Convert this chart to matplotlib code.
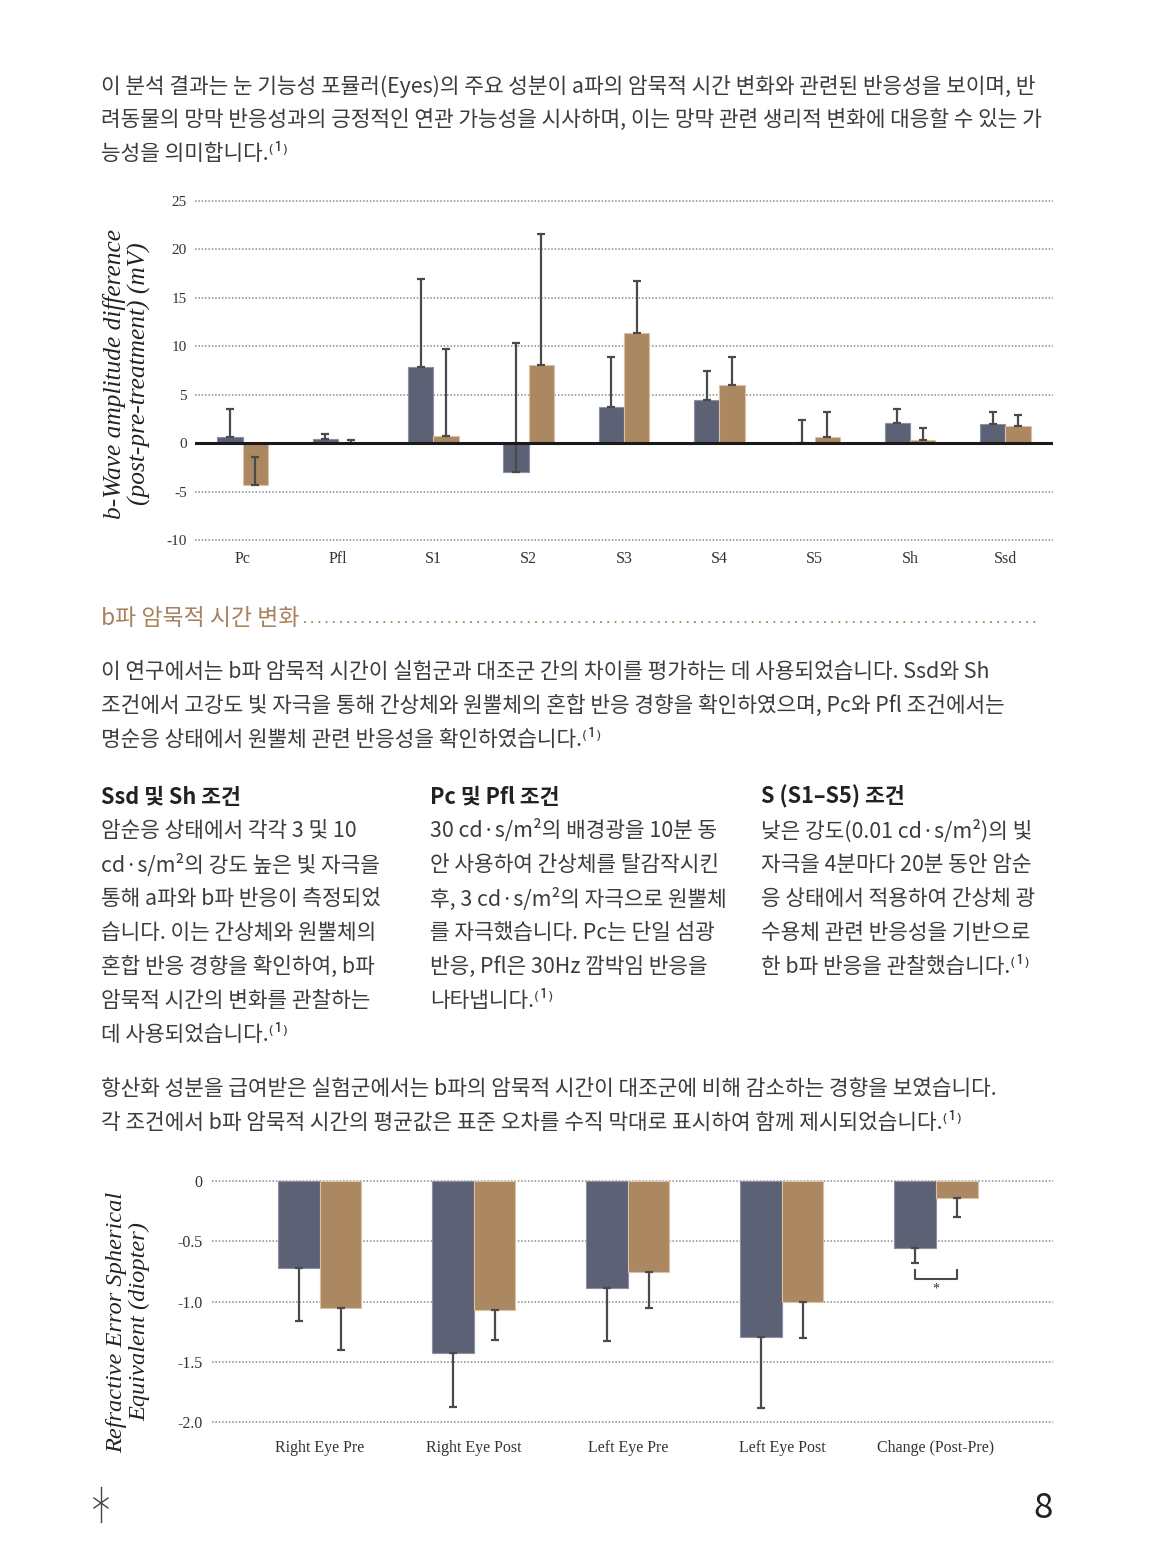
import numpy as np
import matplotlib
matplotlib.use("Agg")
import matplotlib.pyplot as plt
from matplotlib.lines import Line2D

# ---- data: 상단 차트 (b-wave amplitude difference)
top_cats = ["Pc", "Pfl", "S1", "S2", "S3", "S4", "S5", "Sh", "Ssd"]
top_ctrl = [0.65, 0.38, 7.9, -3.0, 3.75, 4.45, 0.0, 2.1, 1.95]
top_ctrl_err = [2.85, 0.52, 9.0, 13.3, 5.15, 2.95, 2.4, 1.4, 1.25]
top_trt = [-4.3, 0.0, 0.75, 8.1, 11.4, 6.0, 0.65, 0.3, 1.8]
top_trt_err = [2.9, 0.35, 8.95, 13.5, 5.3, 2.9, 2.55, 1.25, 1.1]
top_yticks = [-10, -5, 0, 5, 10, 15, 20, 25]
top_ylabels = ["-10", "-5", "0", "5", "10", "15", "20", "25"]

# ---- data: 하단 차트 (refractive error)
bot_cats = ["Right Eye Pre", "Right Eye Post", "Left Eye Pre", "Left Eye Post", "Change (Post-Pre)"]
bot_ctrl = [-0.72, -1.425, -0.888, -1.292, -0.553]
bot_ctrl_err = [0.445, 0.448, 0.437, 0.589, 0.13]
bot_trt = [-1.054, -1.07, -0.758, -1.0, -0.138]
bot_trt_err = [0.351, 0.25, 0.298, 0.305, 0.162]
bot_yticks = [-2.0, -1.5, -1.0, -0.5, 0]
bot_ylabels = ["-2.0", "-1.5", "-1.0", "-0.5", "0"]

NAVY = "#5d6176"
TAN = "#ab8762"
TXT = "#3c3c3c"
KR = ["Noto Sans CJK KR", "DejaVu Sans"]
SERIF = "Liberation Serif"

W, H = 1157, 1564
fig = plt.figure(figsize=(W / 100, H / 100), dpi=100)


def fx(px):
    return px / W


def fy(py):
    return 1 - py / H


def body(x, y, s, **kw):
    opts = dict(family=KR, fontsize=15.4, color=TXT, va="center", ha="left")
    opts.update(kw)
    fig.text(fx(x), fy(y), s, **opts)


# ---- 본문 텍스트
para1 = ["이 분석 결과는 눈 기능성 포뮬러(Eyes)의 주요 성분이 a파의 암묵적 시간 변화와 관련된 반응성을 보이며, 반",
         "려동물의 망막 반응성과의 긍정적인 연관 가능성을 시사하며, 이는 망막 관련 생리적 변화에 대응할 수 있는 가",
         "능성을 의미합니다.⁽¹⁾"]
for i, line in enumerate(para1):
    body(101, 86 + 34 * i, line)

fig.text(fx(101), fy(618), "b파 암묵적 시간 변화", family=KR, fontsize=16.5, color="#a8825c",
         weight="medium", va="center", ha="left")
fig.add_artist(Line2D([fx(304), fx(1040)], [fy(622), fy(622)], color="#a8825c",
                      lw=1.3, ls=(0, (1, 3))))

para2 = ["이 연구에서는 b파 암묵적 시간이 실험군과 대조군 간의 차이를 평가하는 데 사용되었습니다. Ssd와 Sh",
         "조건에서 고강도 빛 자극을 통해 간상체와 원뿔체의 혼합 반응 경향을 확인하였으며, Pc와 Pfl 조건에서는",
         "명순응 상태에서 원뿔체 관련 반응성을 확인하였습니다.⁽¹⁾"]
for i, line in enumerate(para2):
    body(101, 672 + 34 * i, line)

col_heads = ["Ssd 및 Sh 조건", "Pc 및 Pfl 조건", "S (S1–S5) 조건"]
col_x = [101, 430, 761]
col_lines = [
    ["암순응 상태에서 각각 3 및 10", "cd·s/m²의 강도 높은 빛 자극을", "통해 a파와 b파 반응이 측정되었",
     "습니다. 이는 간상체와 원뿔체의", "혼합 반응 경향을 확인하여, b파", "암묵적 시간의 변화를 관찰하는",
     "데 사용되었습니다.⁽¹⁾"],
    ["30 cd·s/m²의 배경광을 10분 동", "안 사용하여 간상체를 탈감작시킨", "후, 3 cd·s/m²의 자극으로 원뿔체",
     "를 자극했습니다. Pc는 단일 섬광", "반응, Pfl은 30Hz 깜박임 반응을", "나타냅니다.⁽¹⁾"],
    ["낮은 강도(0.01 cd·s/m²)의 빛", "자극을 4분마다 20분 동안 암순", "응 상태에서 적용하여 간상체 광",
     "수용체 관련 반응성을 기반으로", "한 b파 반응을 관찰했습니다.⁽¹⁾"],
]
for x, head, lines in zip(col_x, col_heads, col_lines):
    body(x, 797, head, weight="bold", color="#222222", fontsize=15.6)
    for i, line in enumerate(lines):
        body(x, 831 + 34 * i, line)

para3 = ["항산화 성분을 급여받은 실험군에서는 b파의 암묵적 시간이 대조군에 비해 감소하는 경향을 보였습니다.",
         "각 조건에서 b파 암묵적 시간의 평균값은 표준 오차를 수직 막대로 표시하여 함께 제시되었습니다.⁽¹⁾"]
for i, line in enumerate(para3):
    body(101, 1089 + 34 * i, line)

# ---- 공통 스타일
def style_axes(ax):
    for s in ax.spines.values():
        s.set_visible(False)
    ax.tick_params(length=0)
    ax.grid(axis="y", ls=(0, (1, 1.2)), color="#8a8a8a", lw=1.1)
    for gl in ax.get_ygridlines():
        gl.set_clip_on(False)
    ax.set_axisbelow(True)
    for lab in ax.get_xticklabels() + ax.get_yticklabels():
        lab.set_family(SERIF)
        lab.set_color("#333333")


bw = 0.265
ekw = dict(ecolor="#4a4a4a", elinewidth=1.6, capsize=2.6, capthick=1.6, fmt="none")

# ---- 상단 차트
ax1 = fig.add_axes([fx(195), fy(540), fx(1053) - fx(195), fy(201) - fy(540)])
x = np.arange(len(top_cats))
ax1.bar(x - bw / 2, top_ctrl, bw, color=NAVY, edgecolor="#8b8fa3", lw=0.8)
ax1.bar(x + bw / 2, top_trt, bw, color=TAN, edgecolor="#d9c2a6", lw=0.8)
z = np.zeros(len(x))
ax1.errorbar(x - bw / 2, top_ctrl, yerr=[z, top_ctrl_err], **ekw)
ax1.errorbar(x + bw / 2, top_trt, yerr=[z, top_trt_err], **ekw)
ax1.axhline(0, color="#1a1a1a", lw=2.2, zorder=5)
ax1.set_xlim(-0.5, len(x) - 0.5)
ax1.set_ylim(-10, 25)
ax1.set_yticks(top_yticks)
ax1.set_yticklabels(top_ylabels, fontsize=11)
ax1.set_xticks(x)
ax1.set_xticklabels(top_cats, fontsize=11.5)
ax1.tick_params(axis="y", pad=6)
ax1.tick_params(axis="x", pad=8)
style_axes(ax1)
fig.text(fx(127), fy(374), "b-Wave amplitude difference\n(post-pre-treatment) (mV)", family=SERIF,
         style="italic", fontsize=18.3, rotation=90, ha="center", va="center", color="#222222",
         multialignment="center", linespacing=1.08)

# ---- 하단 차트
ax2 = fig.add_axes([fx(212), fy(1422), fx(1053) - fx(212), fy(1181) - fy(1422)])
x2 = np.arange(len(bot_cats))
bw2 = 0.27
ax2.bar(x2 - bw2 / 2, bot_ctrl, bw2, color=NAVY, edgecolor="#8b8fa3", lw=0.8)
ax2.bar(x2 + bw2 / 2, bot_trt, bw2, color=TAN, edgecolor="#d9c2a6", lw=0.8)
z2 = np.zeros(len(x2))
ax2.errorbar(x2 - bw2 / 2, bot_ctrl, yerr=[bot_ctrl_err, z2], **ekw)
ax2.errorbar(x2 + bw2 / 2, bot_trt, yerr=[bot_trt_err, z2], **ekw)
ax2.set_xlim(-0.70, 4.76)
ax2.set_ylim(-2.0, 0)
ax2.set_yticks(bot_yticks)
ax2.set_yticklabels(bot_ylabels, fontsize=11.5)
ax2.set_xticks(x2)
ax2.set_xticklabels(bot_cats, fontsize=11.5)
ax2.tick_params(axis="y", pad=7)
ax2.tick_params(axis="x", pad=13)
style_axes(ax2)

# 유의성 표시 (Change)
xa, xb = x2[4] - bw2 / 2, x2[4] + bw2 / 2
ax2.plot([xa, xa, xb, xb], [-0.735, -0.815, -0.815, -0.735], color="#4a4a4a", lw=1.5, clip_on=False)
ax2.text(x2[4], -0.9, "*", ha="center", va="center", fontsize=10, color="#333333", family=SERIF)

fig.text(fx(128), fy(1322), "Refractive Error Spherical\nEquivalent (diopter)", family=SERIF,
         style="italic", fontsize=17.6, rotation=90, ha="center", va="center", color="#222222",
         multialignment="center", linespacing=1.1)

# ---- 페이지 장식
fig.add_artist(Line2D([fx(101), fx(101)], [fy(1487), fy(1522)], color="#444444", lw=1))
fig.add_artist(Line2D([fx(94), fx(108)], [fy(1498), fy(1508)], color="#444444", lw=1))
fig.add_artist(Line2D([fx(94), fx(108)], [fy(1508), fy(1498)], color="#444444", lw=1))
fig.text(fx(1043), fy(1508), "8", family=KR, fontsize=25, weight="light", color="#222222",
         ha="center", va="center")

fig.savefig("out.png", dpi=100)
